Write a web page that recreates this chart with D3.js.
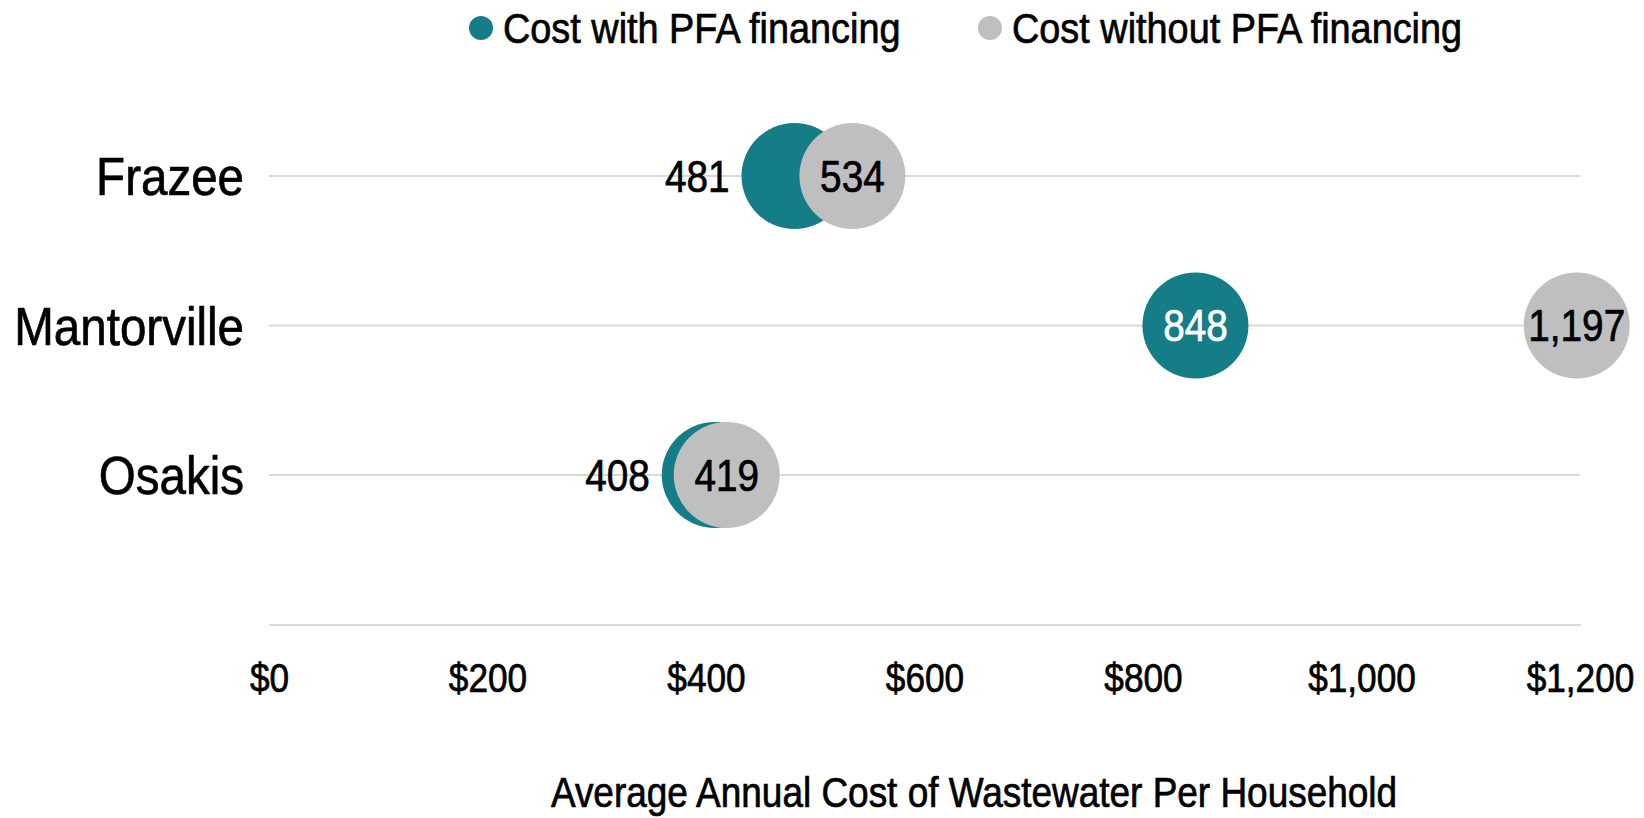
<!DOCTYPE html>
<html>
<head>
<meta charset="utf-8">
<script src="https://cdn.jsdelivr.net/npm/d3@7"></script>
<style>
  body { margin: 0; background: #fff; }
  svg text { font-family: "Liberation Sans", Arial, sans-serif; fill: #000; stroke: #000; stroke-width: 0.7px; }
</style>
</head>
<body>
<script>
// data
const towns = ["Frazee", "Mantorville", "Osakis"];
const withPFA = [481, 848, 408];
const withoutPFA = [534, 1197, 419];
const seriesNames = ["Cost with PFA financing", "Cost without PFA financing"];
const tickValues = [0, 200, 400, 600, 800, 1000, 1200];
const axisTitle = "Average Annual Cost of Wastewater Per Household";

const teal = "#157d88", grey = "#bfbfbf", gridColor = "#d9d9d9";
const r = 53;
const narrow = 0.88; // no narrow font installed, so squeeze the text horizontally

let rows = towns.map((t, i) => ({ town: t, a: withPFA[i], b: withoutPFA[i] }));

let svg = d3.select("body").append("svg")
    .attr("width", 1644)
    .attr("height", 818);

let x = d3.scaleLinear().domain([0, 1200]).range([269, 1580]);
let y = d3.scalePoint().domain(towns).range([176, 475]);
let axisY = y(towns[towns.length - 1]) + y.step();

let at = (px, py) => `translate(${px},${py}) scale(${narrow},1)`;

// gridlines
svg.selectAll("line.grid")
    .data(towns)
    .enter()
    .append("line")
    .attr("class", "grid")
    .attr("x1", x(0)).attr("x2", x(1200))
    .attr("y1", d => y(d)).attr("y2", d => y(d))
    .attr("stroke", gridColor)
    .attr("stroke-width", 2);

// x axis
let xAxis = d3.axisBottom(x)
    .tickValues(tickValues)
    .tickSize(0)
    .tickPadding(39)
    .tickFormat(d => "$" + d3.format(",")(d));

let gx = svg.append("g")
    .attr("transform", `translate(0,${axisY})`)
    .call(xAxis);
gx.select(".domain").attr("stroke", gridColor).attr("stroke-width", 2);
gx.selectAll("text")
    .attr("font-size", 40)
    .attr("fill", "#000")
    .attr("font-family", null)
    .attr("transform", `scale(${narrow},1)`);

// town labels
svg.selectAll("text.town")
    .data(towns)
    .enter()
    .append("text")
    .attr("class", "town")
    .attr("transform", d => at(244, y(d)))
    .attr("dy", "0.36em")
    .attr("text-anchor", "end")
    .attr("font-size", 54)
    .text(d => d);

// circles
svg.selectAll("circle.a")
    .data(rows)
    .enter()
    .append("circle")
    .attr("class", "a")
    .attr("cx", d => x(d.a))
    .attr("cy", d => y(d.town))
    .attr("r", r)
    .attr("fill", teal);

svg.selectAll("circle.b")
    .data(rows)
    .enter()
    .append("circle")
    .attr("class", "b")
    .attr("cx", d => x(d.b))
    .attr("cy", d => y(d.town))
    .attr("r", r)
    .attr("fill", grey);

// value labels
let fmt = d3.format(",");
let covered = d => x(d.b) - x(d.a) < 2 * r;

svg.selectAll("text.va")
    .data(rows)
    .enter()
    .append("text")
    .attr("class", "va")
    // teal label sits outside on the left when the grey circle covers it
    .attr("transform", d => at(covered(d) ? x(d.a) - r - 12 : x(d.a), y(d.town)))
    .attr("dy", "0.36em")
    .attr("text-anchor", d => covered(d) ? "end" : "middle")
    .attr("font-size", 44)
    .style("fill", d => covered(d) ? "#000" : "#fff")
    .style("stroke", d => covered(d) ? "#000" : "#fff")
    .text(d => fmt(d.a));

svg.selectAll("text.vb")
    .data(rows)
    .enter()
    .append("text")
    .attr("class", "vb")
    .attr("transform", d => at(x(d.b), y(d.town)))
    .attr("dy", "0.36em")
    .attr("text-anchor", "middle")
    .attr("font-size", 44)
    .text(d => fmt(d.b));

// legend
let legendX = [481, 990];
let legend = svg.selectAll("g.legend")
    .data(seriesNames)
    .enter()
    .append("g")
    .attr("class", "legend")
    .attr("transform", (d, i) => `translate(${legendX[i]},28)`);

legend.append("circle")
    .attr("r", 12)
    .attr("fill", (d, i) => i === 0 ? teal : grey);

legend.append("text")
    .attr("transform", at(22, 0))
    .attr("dy", "0.36em")
    .attr("font-size", 43)
    .text(d => d);

// axis title
svg.append("text")
    .attr("transform", at(974, 792))
    .attr("dy", "0.36em")
    .attr("text-anchor", "middle")
    .attr("font-size", 42)
    .text(axisTitle);
</script>
</body>
</html>
